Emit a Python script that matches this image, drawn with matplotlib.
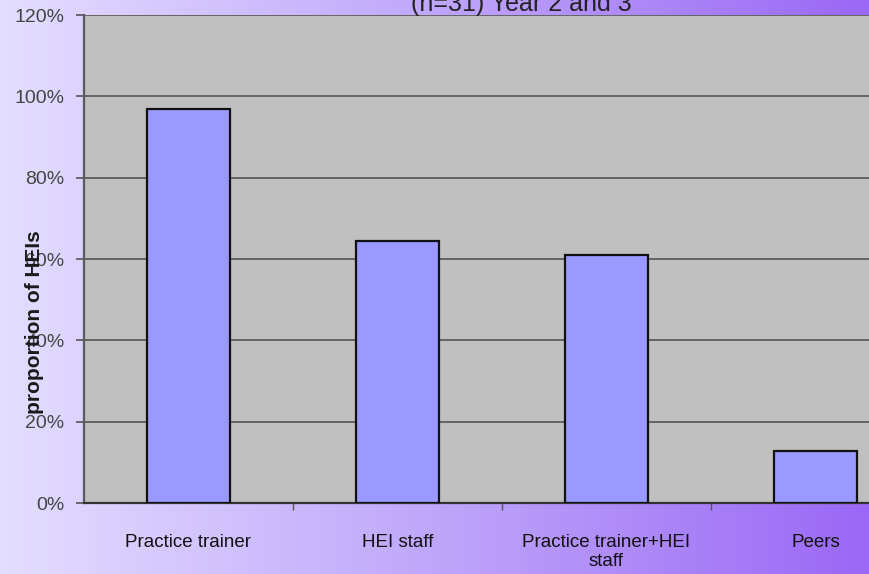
import matplotlib.pyplot as plt
import numpy as np
from matplotlib.colors import LinearSegmentedColormap
from matplotlib.ticker import PercentFormatter

categories = ["Practice trainer", "HEI staff", "Practice trainer+HEI\nstaff", "Peers"]
values = [0.968, 0.645, 0.61, 0.129]
title = "(n=31) Year 2 and 3"
ylabel = "proportion of HEIs"

plt.rcParams["font.family"] = ["Liberation Sans", "DejaVu Sans"]

fig = plt.figure(figsize=(8.7, 5.74), dpi=100)

# gradient background across the whole figure
bg = fig.add_axes([0, 0, 1, 1], zorder=-10)
cmap = LinearSegmentedColormap.from_list("bg", ["#E4DEFF", "#BFA6FA", "#9A68F5"])
bg.imshow(np.linspace(0, 1, 256)[None, :], aspect="auto", cmap=cmap, extent=[0, 1, 0, 1])
bg.axis("off")

# plot area runs past the right edge of the figure
ax = fig.add_axes([84 / 870, 1 - 503 / 574, 836 / 870, 488 / 574])
ax.set_facecolor("#C0C0C0")

x = np.arange(len(categories))
ax.bar(x, values, width=0.4, color="#9999FF", edgecolor="#111111", linewidth=1.6, zorder=3)

ax.set_xlim(-0.5, 3.5)
ax.set_ylim(0, 1.2)
ax.set_yticks(np.arange(0, 1.21, 0.2))
ax.yaxis.set_major_formatter(PercentFormatter(1.0, decimals=0))
ax.grid(axis="y", color="#646464", linewidth=1.4, zorder=1)

ax.set_xticks(x)
ax.set_xticklabels(categories, fontsize=13.5, color="#111111")
ax.tick_params(axis="x", which="major", length=0, pad=22)
ax.set_xticks([0.5, 1.5, 2.5], minor=True)
ax.tick_params(axis="x", which="minor", length=5, color="#555555", width=1)
ax.tick_params(axis="y", length=6, color="#555555", width=1.2, pad=8,
               labelsize=14, labelcolor="#444444")

for side in ["top", "right"]:
    ax.spines[side].set_visible(False)
ax.spines["left"].set_color("#5A5A5A")
ax.spines["left"].set_linewidth(1.6)
ax.spines["bottom"].set_color("#333333")
ax.spines["bottom"].set_linewidth(1.6)

ax.set_ylabel(ylabel, fontsize=15, fontweight="bold", color="#1a1a1a")
ax.yaxis.set_label_coords(-0.048, (503 - 322) / 488)

fig.text(521 / 870, 1 - 11 / 574, title, ha="center", va="baseline",
         fontsize=18, color="#222222")

fig.savefig("out.png", dpi=100)
